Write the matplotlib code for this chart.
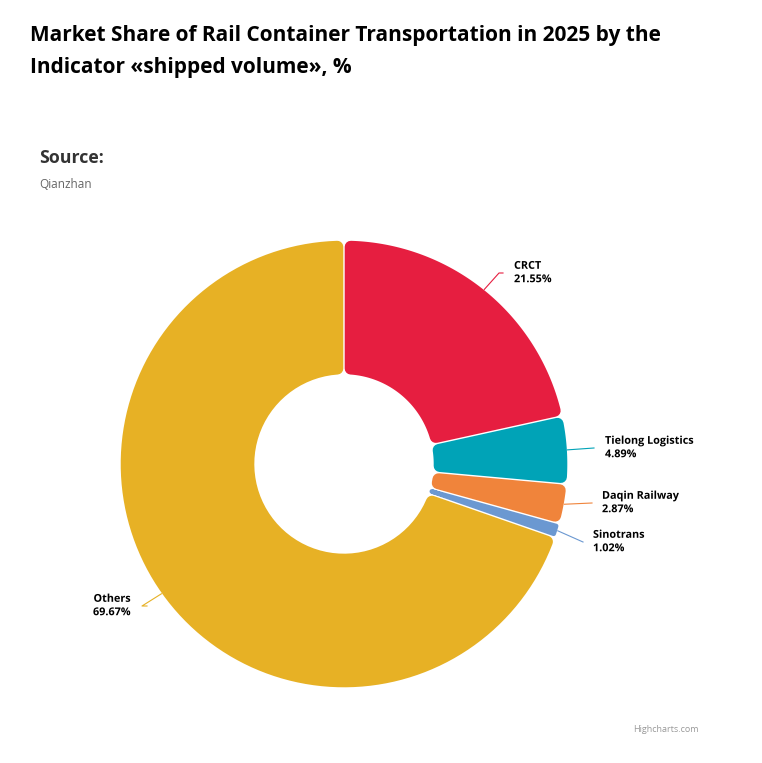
import numpy as np
import matplotlib.pyplot as plt
from matplotlib.patches import Polygon
import matplotlib.patheffects as pe

companies = ['CRCT', 'Tielong Logistics', 'Daqin Railway', 'Sinotrans', 'Others']
shares = [21.55, 4.89, 2.87, 1.02, 69.67]
colors = ['#e61e40', '#00a3b7', '#f0843b', '#6b98d1', '#e7b125']

W, H = 762, 763
fig = plt.figure(figsize=(W / 100, H / 100), dpi=100)
ax = fig.add_axes([0, 0, 1, 1])

cx, cy = 344, H - 464
R, R0 = 224, 89

wedges, _ = ax.pie(shares, colors=colors, startangle=90, counterclock=False,
                   center=(cx, cy), radius=R, wedgeprops=dict(width=R - R0),
                   frame=True)
ax.set_xlim(0, W)
ax.set_ylim(0, H)
ax.set_aspect('equal')
ax.axis('off')


def rounded(wd, kmax=6, gap=0.7):
    # inset polygon of the wedge, stroked in its own colour with round joins
    t1, t2 = np.radians(wd.theta1), np.radians(wd.theta2)
    ro, ri = wd.r, wd.r - wd.width
    k = min(kmax, 0.4 * ri * (t2 - t1))
    s = k + gap
    da_o, da_i = np.arcsin(s / (ro - s)), np.arcsin(s / (ri + s))
    a_o = np.linspace(t1 + da_o, t2 - da_o, 120)
    a_i = np.linspace(t2 - da_i, t1 + da_i, 60)
    pts = np.concatenate([
        np.c_[cx + (ro - s) * np.cos(a_o), cy + (ro - s) * np.sin(a_o)],
        np.c_[cx + (ri + s) * np.cos(a_i), cy + (ri + s) * np.sin(a_i)],
    ])
    c = wd.get_facecolor()
    return Polygon(pts, closed=True, facecolor=c, edgecolor=c,
                   linewidth=2 * k * 0.72, joinstyle='round')


for wd in wedges:
    ax.add_patch(rounded(wd))
    wd.set_visible(False)

# data labels with connectors
label_pos = {
    'CRCT': (503, 273, 514, 'left'),
    'Tielong Logistics': (594, 448, 605, 'left'),
    'Daqin Railway': (592, 503, 602, 'left'),
    'Sinotrans': (583, 542, 593, 'left'),
    'Others': (147, 606, 131, 'right'),
}
elbows = {'CRCT': (499, 273), 'Others': (142, 606)}
outline = [pe.withStroke(linewidth=2, foreground='white')]

for wd, name, val in zip(wedges, companies, shares):
    mid = np.radians((wd.theta1 + wd.theta2) / 2)
    sx, sy = cx + R * np.cos(mid), cy + R * np.sin(mid)
    ex, ey, tx, ha = label_pos[name]
    xs, ys = [sx], [sy]
    if name in elbows:
        bx, by = elbows[name]
        xs.append(bx)
        ys.append(H - by)
    xs.append(ex)
    ys.append(H - ey)
    ax.plot(xs, ys, color=wd.get_facecolor(), lw=0.8)
    ax.text(tx, H - ey, name + '\n' + f'{val:.2f}%', ha=ha, va='center',
            fontsize=7.8, fontweight='bold', color='black', linespacing=1.3,
            path_effects=outline, family='Open Sans')

fig.text(30 / W, 1 - 36 / H,
         'Market Share of Rail Container Transportation in 2025 by the',
         fontsize=15, fontweight='bold', va='center', family='Open Sans')
fig.text(30 / W, 1 - 68 / H, 'Indicator \u00abshipped volume\u00bb, %',
         fontsize=15, fontweight='bold', va='center', family='Open Sans')
fig.text(39 / W, 1 - 158 / H, 'Source:', fontsize=12.8, fontweight='bold',
         color='#333333', va='center', family='Open Sans')
fig.text(39 / W, 1 - 184 / H, 'Qianzhan', fontsize=8.5, color='#666666',
         va='center', family='Open Sans')
fig.text(699 / W, 1 - 730 / H, 'Highcharts.com', fontsize=6.5,
         color='#999999', ha='right', va='center', family='Open Sans')

fig.savefig('out.png', dpi=100, facecolor='white')
